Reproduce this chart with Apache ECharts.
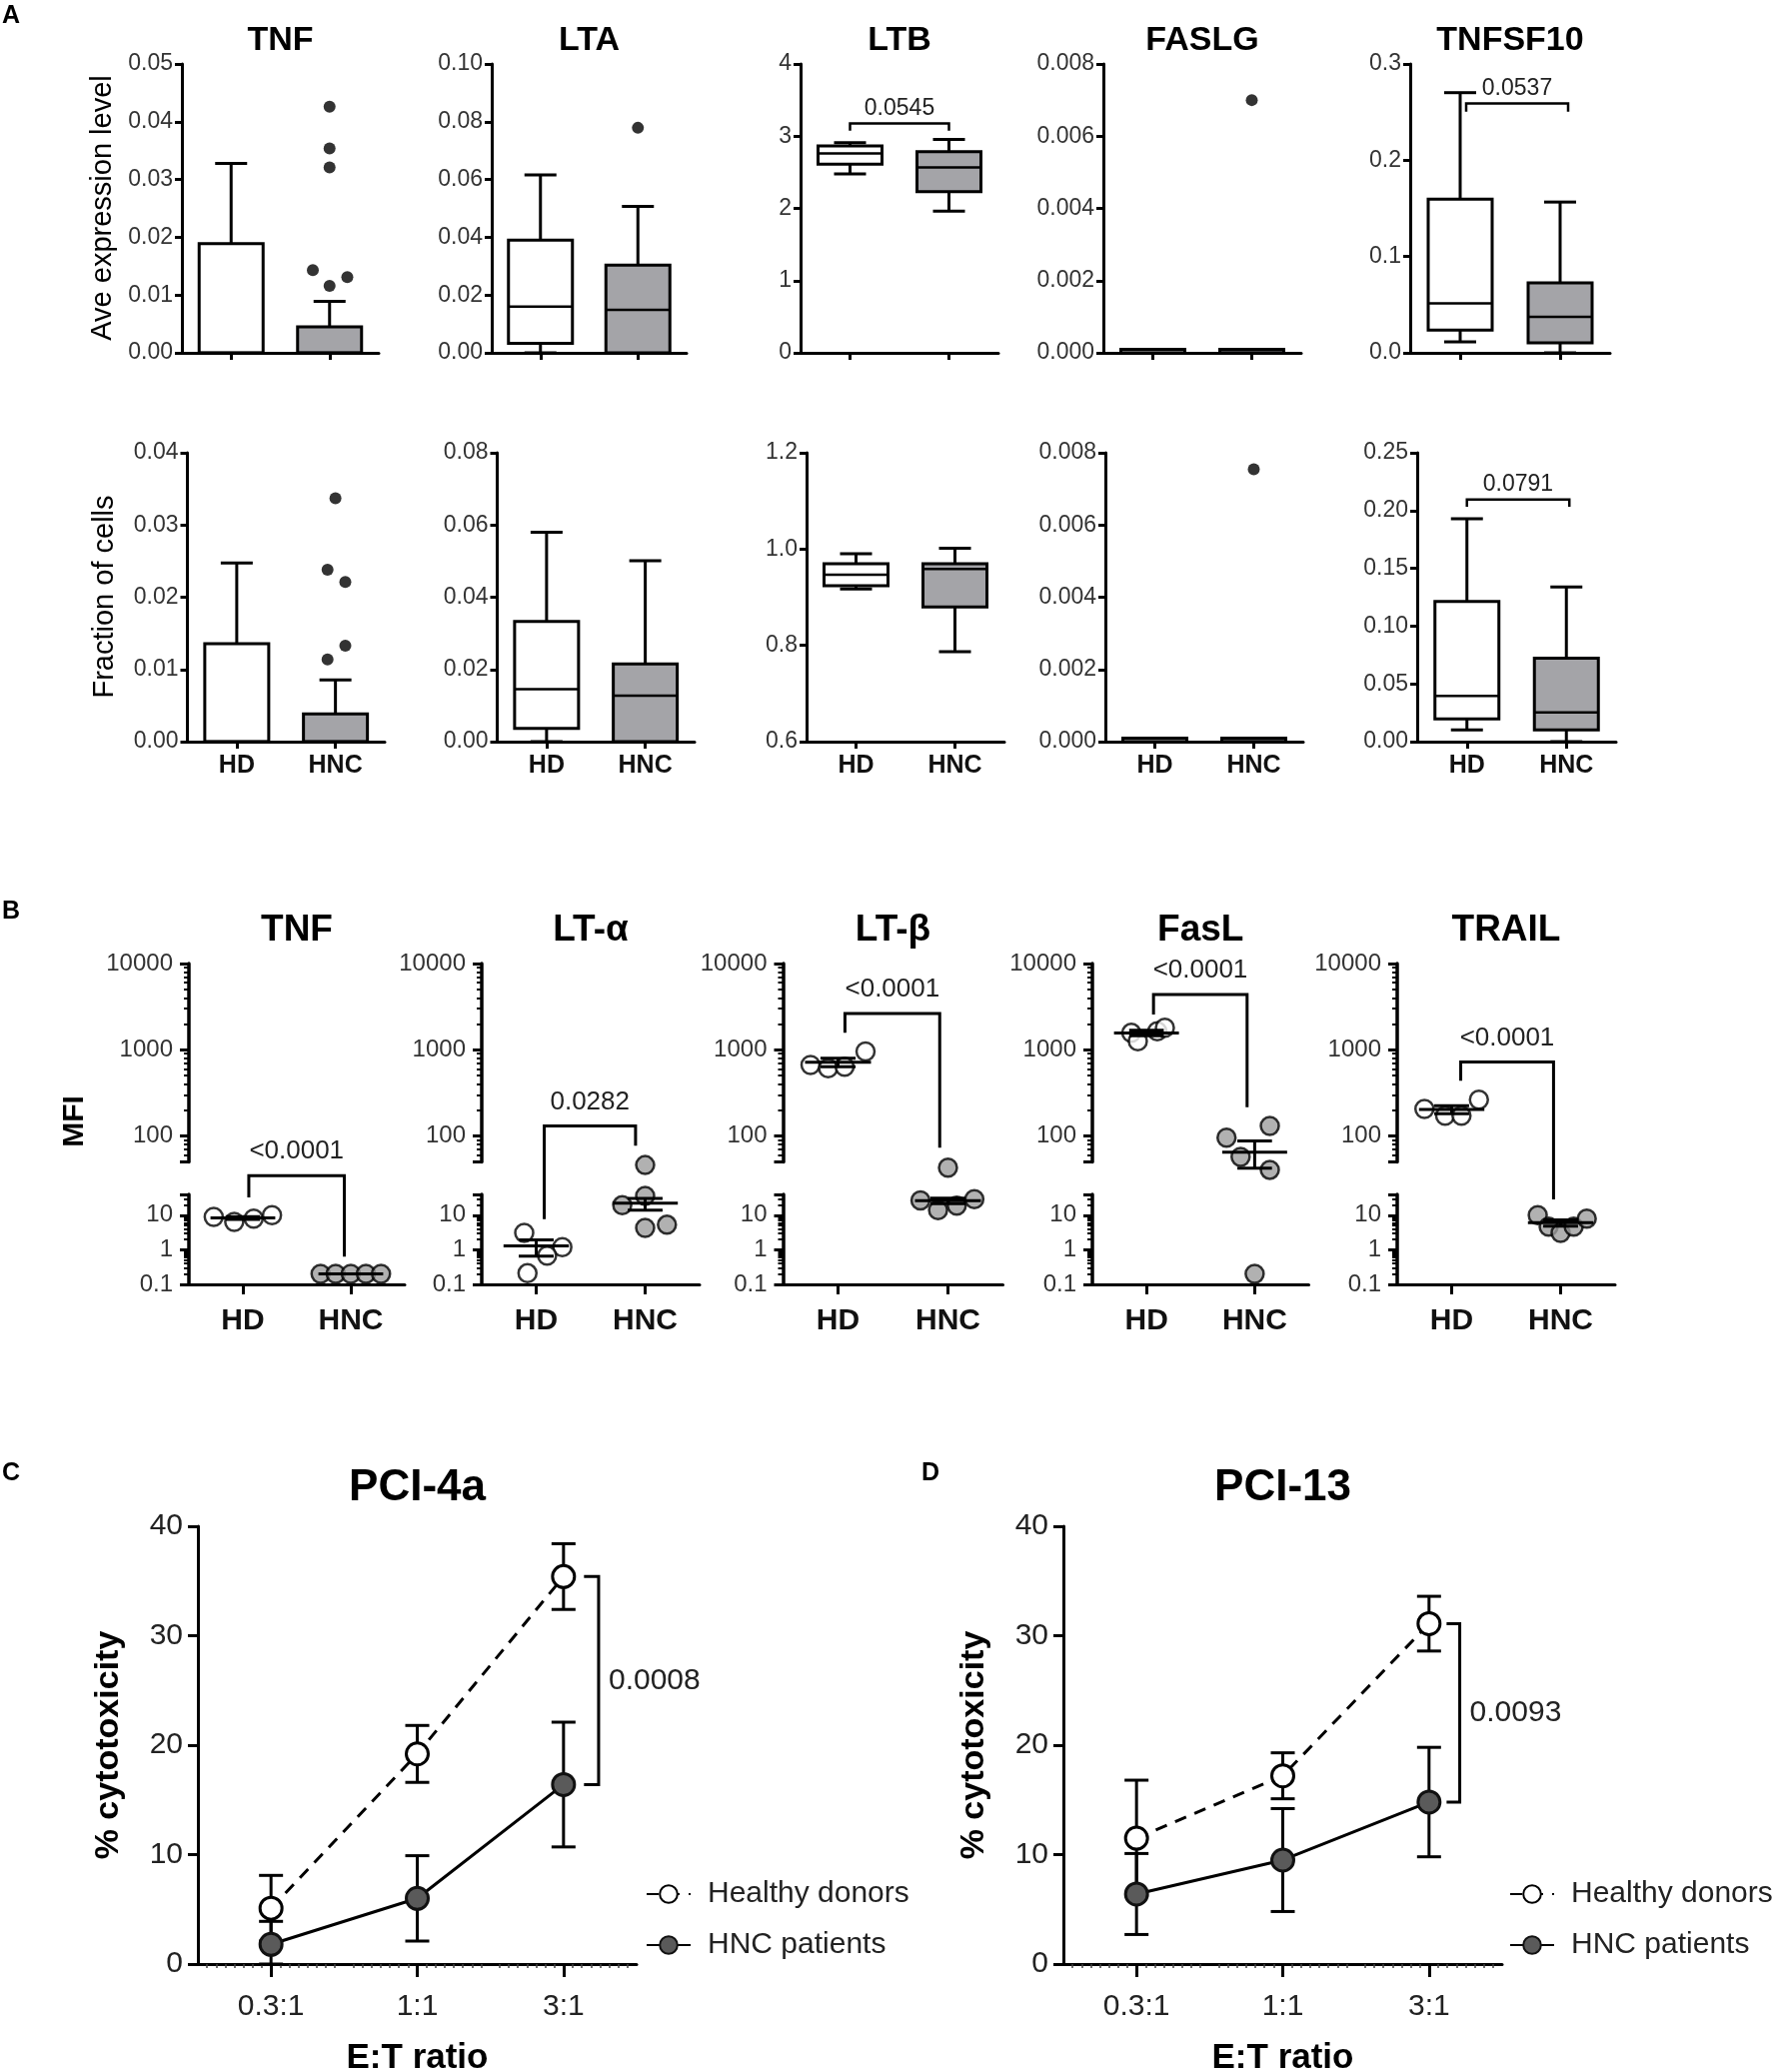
<!DOCTYPE html>
<html>
<head>
<meta charset="utf-8">
<title>TNF superfamily ligands</title>
<script src="https://cdn.jsdelivr.net/npm/echarts@6.0.0/dist/echarts.min.js"></script>
<style>
html,body{margin:0;padding:0;background:#fff;overflow:hidden;}
#chart{width:1778px;height:2073px;}
</style>
</head>
<body>
<div id="chart"></div>
<script>
// ===================== DATA =====================
const groupNames = ['HD', 'HNC'];
const genesA = ['TNF', 'LTA', 'LTB', 'FASLG', 'TNFSF10'];

// Panel A, row 1 – Ave expression level. Box summaries [min, q1, median, q3, max] for HD, HNC
const exprTNF     = [[0, 0, 0, 0.0189, 0.0328], [0, 0, 0, 0.0045, 0.0089]];
const exprLTA     = [[0, 0.0033, 0.0160, 0.0390, 0.0616], [0, 0, 0.0149, 0.0304, 0.0507]];
const exprLTB     = [[2.476, 2.614, 2.760, 2.864, 2.910], [1.963, 2.231, 2.568, 2.785, 2.956]];
const exprFASLG   = [[0, 0, 0, 0.0001, 0.0001], [0, 0, 0, 0.0001, 0.0001]];
const exprTNFSF10 = [[0.0114, 0.0236, 0.0513, 0.1597, 0.2702], [0, 0.0104, 0.0374, 0.0727, 0.1566]];
// outliers (HNC group) and their horizontal jitter in category units
const exprTNFOut = [0.0426, 0.0354, 0.0321, 0.0143, 0.0116, 0.0131];
const exprTNFJit = [0, 0, 0, -0.17, 0, 0.18];
const exprLTAOut = [0.0779];
const exprLTAJit = [0];
const exprFASLGOut = [0.0070];
const exprFASLGJit = [0];
// y axes [min, max, interval] and label decimals
const exprAxes = [[0, 0.05, 0.01], [0, 0.10, 0.02], [0, 4, 1], [0, 0.008, 0.002], [0, 0.3, 0.1]];
const exprDecimals = [2, 2, 0, 3, 1];
// brackets [x1, x2, yTop, yLegEnd] and p values
const exprBrackets = [null, null, [0, 1, 3.178, 3.076], null, [0.06, 1.08, 0.2591, 0.2505]];
const exprPvals = [null, null, '0.0545', null, '0.0537'];

// Panel A, row 2 – Fraction of cells
const fracTNF     = [[0, 0, 0, 0.01355, 0.02474], [0, 0, 0, 0.00384, 0.00855]];
const fracLTA     = [[0, 0.0037, 0.0145, 0.0333, 0.0580], [0, 0, 0.01276, 0.02155, 0.0501]];
const fracLTB     = [[0.917, 0.924, 0.9468, 0.9697, 0.9905], [0.7866, 0.8795, 0.9586, 0.9697, 1.0016]];
const fracFASLG   = [[0, 0, 0, 0.0001, 0.0001], [0, 0, 0, 0.0001, 0.0001]];
const fracTNFSF10 = [[0.0101, 0.0197, 0.0396, 0.1214, 0.1930], [0, 0.0101, 0.0254, 0.0723, 0.1338]];
const fracTNFOut = [0.0337, 0.0238, 0.0221, 0.0133, 0.0114];
const fracTNFJit = [0, -0.08, 0.10, 0.10, -0.08];
const fracFASLGOut = [0.00754];
const fracFASLGJit = [0];
const fracAxes = [[0, 0.04, 0.01], [0, 0.08, 0.02], [0.6, 1.2, 0.2], [0, 0.008, 0.002], [0, 0.25, 0.05]];
const fracDecimals = [2, 2, 1, 3, 2];
const fracBrackets = [null, null, null, null, [0, 1.03, 0.2095, 0.2032]];
const fracPvals = [null, null, null, null, '0.0791'];

// Panel B – MFI, individual donors (log scale, broken axis)
const mfiTitles = ['TNF', 'LT-\u03b1', 'LT-\u03b2', 'FasL', 'TRAIL'];
const mfiHD = [[8.9, 6.4, 8.0, 10.0], [3.1, 1.19, 0.68, 0.21], [667, 609, 637, 955], [1570, 1253, 1643, 1797], [206, 172, 172, 263]];
const mfiHDJit = [[-0.27, -0.08, 0.10, 0.27], [-0.11, 0.24, 0.10, -0.08], [-0.25, -0.09, 0.06, 0.25], [-0.14, -0.08, 0.10, 0.17], [-0.25, -0.06, 0.09, 0.25]];
const mfiHNC = [[0.2, 0.2, 0.2, 0.2, 0.2], [46, 36, 19.4, 4.3, 5.3], [43, 27, 14, 19, 29], [95.6, 57, 131, 40.5, 0.2], [10, 4.7, 3.1, 4.7, 8]];
const mfiHNCJit = [[-0.28, -0.14, 0, 0.14, 0.28], [0, 0, -0.21, 0, 0.20], [0, -0.25, -0.09, 0.08, 0.24], [-0.26, -0.13, 0.14, 0.14, 0], [-0.21, -0.11, 0, 0.12, 0.24]];
const mfiBreak = 40;          // values >= this use the upper segment scale
const mfiUpperMin = 50;       // upper segment axis starts here
const mfiUpperMax = 10000;
const mfiLowerMin = 0.1;
const mfiUpperLabels = [100, 1000, 10000];
const mfiLowerLabels = [0.1, 1, 10];
// brackets [x1, x2, yTop, yLeftLegEnd, yRightLegEnd]
const mfiBrackets = [[0.055, 0.94, 34.7, 32.8, 0.63], [0.074, 0.912, 131, 7.7, 77.3], [0.063, 0.925, 2630, 1571, 73], [0.065, 0.93, 4385, 2570, 215], [0.083, 0.935, 723, 436, 28.8]];
const mfiPvals = ['<0.0001', '0.0282', '<0.0001', '<0.0001', '<0.0001'];

// Panels C, D – % cytotoxicity (mean ± SEM)
const ratios = ['0.3:1', '1:1', '3:1'];
const pci4aHD = [5.1, 19.2, 35.4];
const pci4aHDsem = [3.0, 2.6, 3.0];
const pci4aHNC = [1.8, 6.0, 16.4];
const pci4aHNCsem = [2.1, 3.9, 5.7];
const pci13HD = [11.5, 17.2, 31.1];
const pci13HDsem = [5.3, 2.1, 2.5];
const pci13HNC = [6.4, 9.5, 14.8];
const pci13HNCsem = [3.7, 4.7, 5.0];
const pci4aBracket = [2.14, 2.24];
const pci13Bracket = [2.12, 2.21];
const pci4aP = '0.0008';
const pci13P = '0.0093';
const seriesNames = ['Healthy donors', 'HNC patients'];

// ===================== LAYOUT / STYLE =====================
const FONT = "'Liberation Sans', Arial, Helvetica, sans-serif";
const rowA1Lefts = [182, 492, 801, 1104, 1411], rowA1Widths = [197, 195, 198, 198, 200];
const rowA2Lefts = [187.5, 497.5, 807, 1106, 1418], rowA2Widths = [197.5, 197.5, 198, 198, 199];
const rowBLefts = [189, 482, 783.5, 1093, 1398], rowBWidths = [216, 218, 220, 216.5, 218];
const boxFill = ['#ffffff', '#a4a4a8'];
const dotFillB = ['#ffffff', '#9e9e9e'];

const chart = echarts.init(document.getElementById('chart'), null, {width: 1778, height: 2073});
const grids = [], xAxes = [], yAxes = [], series = [];
function addGrid(left, top, width, height) {
  grids.push({left, top, width, height, containLabel: false, outerBoundsMode: 'none'});
  return grids.length - 1;
}
function seg(x1, y1, x2, y2, w) {
  return {type: 'line', shape: {x1, y1, x2, y2}, style: {stroke: '#000', lineWidth: w || 3}};
}
function groupXAxis(g, showLabels, labelSize, tickLen, margin) {
  xAxes.push({gridIndex: g, type: 'value', min: -0.5, max: 1.5,
    axisLine: {show: true, onZero: false, lineStyle: {color: '#000', width: 3}},
    axisTick: {show: true, customValues: [0, 1], length: tickLen, lineStyle: {color: '#000', width: 3}},
    axisLabel: {show: showLabels, customValues: [0, 1], formatter: v => groupNames[Math.round(v)],
      fontFamily: FONT, fontSize: labelSize, fontWeight: 'bold', color: '#111', margin: margin},
    splitLine: {show: false}});
  return xAxes.length - 1;
}

// ---------- box plot renderer ----------
function renderBox(params, api) {
  const i = api.value(0);
  const v = [1, 2, 3, 4, 5].map(k => api.value(k));
  const p = v.map(val => api.coord([i, val]));
  const cx = p[2][0], hw = 32, cw = 16;
  const ch = [];
  if (v[4] > v[3]) { ch.push(seg(cx, p[3][1], cx, p[4][1])); ch.push(seg(cx - cw, p[4][1], cx + cw, p[4][1])); }
  if (v[0] < v[1]) { ch.push(seg(cx, p[1][1], cx, p[0][1])); ch.push(seg(cx - cw, p[0][1], cx + cw, p[0][1])); }
  ch.push({type: 'rect', shape: {x: cx - hw, y: p[3][1], width: 2 * hw, height: Math.max(p[1][1] - p[3][1], 0)},
    style: {fill: boxFill[i], stroke: '#000', lineWidth: 3}});
  ch.push(seg(cx - hw, p[2][1], cx + hw, p[2][1], 2.5));
  return {type: 'group', children: ch};
}

const aRefs = [[], []];
function buildRowA(row, lefts, widths, top, boxes, axes, decimals, outs, jits, showX) {
  for (let k = 0; k < 5; k++) {
    const g = addGrid(lefts[k], top, widths[k], 289);
    const xi = groupXAxis(g, showX, 25, 7, 12);
    yAxes.push({gridIndex: g, type: 'value', min: axes[k][0], max: axes[k][1], interval: axes[k][2],
      axisLine: {show: true, onZero: false, lineStyle: {color: '#000', width: 3}},
      axisTick: {show: true, length: 7, lineStyle: {color: '#000', width: 3}},
      axisLabel: {formatter: v => v.toFixed(decimals[k]), fontFamily: FONT, fontSize: 23, color: '#333', margin: 9},
      splitLine: {show: false}});
    const yi = yAxes.length - 1;
    series.push({type: 'custom', xAxisIndex: xi, yAxisIndex: yi, renderItem: renderBox, z: 3,
      data: boxes[k].map((b, i) => [i].concat(b))});
    if (outs[k]) {
      series.push({type: 'scatter', xAxisIndex: xi, yAxisIndex: yi, z: 4, symbol: 'circle', symbolSize: 12,
        itemStyle: {color: '#000'}, data: outs[k].map((v, j) => [1 + jits[k][j], v])});
    }
    aRefs[row].push({xi, yi, left: lefts[k], width: widths[k]});
  }
}
buildRowA(0, rowA1Lefts, rowA1Widths, 64,
  [exprTNF, exprLTA, exprLTB, exprFASLG, exprTNFSF10], exprAxes, exprDecimals,
  [exprTNFOut, exprLTAOut, null, exprFASLGOut, null], [exprTNFJit, exprLTAJit, null, exprFASLGJit, null], false);
buildRowA(1, rowA2Lefts, rowA2Widths, 453,
  [fracTNF, fracLTA, fracLTB, fracFASLG, fracTNFSF10], fracAxes, fracDecimals,
  [fracTNFOut, null, null, fracFASLGOut, null], [fracTNFJit, null, null, fracFASLGJit, null], true);

// ---------- Panel B ----------
function minorLogTicks(lo, hi) {
  const out = [];
  for (let e = -2; e <= 5; e++) {
    for (let m = 2; m <= 9; m++) {
      const v = m * Math.pow(10, e);
      if (v > lo * 1.0001 && v < hi * 0.9999) out.push(v);
    }
  }
  return out;
}
function meanSem(a) {
  const n = a.length, m = a.reduce((s, v) => s + v, 0) / n;
  const sd = Math.sqrt(a.reduce((s, v) => s + (v - m) * (v - m), 0) / (n - 1));
  return [m, sd / Math.sqrt(n)];
}
function makeMeanRenderer(inSeg) {
  return function (params, api) {
    const x = api.value(0), m = api.value(1), s = api.value(2);
    const ch = [];
    if (inSeg(m)) {
      const a = api.coord([x - 0.3, m]), b = api.coord([x + 0.3, m]);
      ch.push(seg(a[0], a[1], b[0], b[1], 3));
    }
    if (s > 0) {
      const hiV = m + s, loV = m - s;
      const c0 = api.coord([x, m])[0], cw = api.coord([x + 0.16, m])[0] - c0;
      const hi = api.coord([x, hiV]), lo = api.coord([x, loV]);
      if (inSeg(hiV) && inSeg(loV)) ch.push(seg(hi[0], hi[1], lo[0], lo[1], 3));
      if (inSeg(hiV)) ch.push(seg(hi[0] - cw, hi[1], hi[0] + cw, hi[1], 3));
      if (inSeg(loV)) ch.push(seg(lo[0] - cw, lo[1], lo[0] + cw, lo[1], 3));
    }
    return {type: 'group', children: ch};
  };
}
function logYAxes(g, min, max, majorTicks, labels) {
  // axis line (linear helper axis so the line spans exactly the segment)
  yAxes.push({gridIndex: g, type: 'value', min: 0, max: 1, position: 'left',
    axisLine: {show: true, onZero: false, lineStyle: {color: '#000', width: 3.5}},
    axisTick: {show: false}, axisLabel: {show: false}, splitLine: {show: false}});
  // major ticks + labels
  yAxes.push({gridIndex: g, type: 'log', logBase: 10, min: min, max: max, position: 'left',
    axisLine: {show: false, onZero: false},
    axisTick: {show: true, customValues: majorTicks, length: 9, lineStyle: {color: '#000', width: 3}},
    axisLabel: {show: true, customValues: labels, formatter: v => String(v), fontFamily: FONT, fontSize: 24, color: '#333', margin: 16},
    splitLine: {show: false}});
  const major = yAxes.length - 1;
  // minor ticks
  yAxes.push({gridIndex: g, type: 'log', logBase: 10, min: min, max: max, position: 'left',
    axisLine: {show: false, onZero: false},
    axisTick: {show: true, customValues: minorLogTicks(min, max), length: 5, lineStyle: {color: '#000', width: 2}},
    axisLabel: {show: false}, splitLine: {show: false}});
  return major;
}
const inUpper = v => v >= mfiBreak;
const inLower = v => v < mfiBreak;
const bRefs = [];
for (let k = 0; k < 5; k++) {
  const gU = addGrid(rowBLefts[k], 964, rowBWidths[k], 198.5);
  const gL = addGrid(rowBLefts[k], 1195, rowBWidths[k], 90);
  xAxes.push({gridIndex: gU, type: 'value', min: -0.5, max: 1.5, show: false, axisLine: {onZero: false}});
  const xU = xAxes.length - 1;
  const xL = groupXAxis(gL, true, 30, 10, 22);
  const yU = logYAxes(gU, mfiUpperMin, mfiUpperMax, [mfiUpperMin].concat(mfiUpperLabels), mfiUpperLabels);
  const yL = logYAxes(gL, mfiLowerMin, mfiBreak, mfiLowerLabels.concat([mfiBreak]), mfiLowerLabels);
  const stats = [meanSem(mfiHD[k]), meanSem(mfiHNC[k])];
  [[xU, yU, inUpper], [xL, yL, inLower]].forEach(([xi, yi, inSeg]) => {
    series.push({type: 'scatter', xAxisIndex: xi, yAxisIndex: yi, clip: false, z: 3, symbol: 'circle', symbolSize: 18,
      itemStyle: {color: dotFillB[0], borderColor: '#000', borderWidth: 2.5},
      data: mfiHD[k].map((v, j) => [0 + mfiHDJit[k][j], v]).filter(d => inSeg(d[1]))});
    series.push({type: 'scatter', xAxisIndex: xi, yAxisIndex: yi, clip: false, z: 3, symbol: 'circle', symbolSize: 18,
      itemStyle: {color: dotFillB[1], borderColor: '#000', borderWidth: 2.5},
      data: mfiHNC[k].map((v, j) => [1 + mfiHNCJit[k][j], v]).filter(d => inSeg(d[1]))});
    series.push({type: 'custom', xAxisIndex: xi, yAxisIndex: yi, clip: false, z: 5, renderItem: makeMeanRenderer(inSeg),
      data: stats.map((s, i) => [i, s[0], s[1]])});
  });
  bRefs.push({xU, yU, xL, yL, left: rowBLefts[k], width: rowBWidths[k]});
}

// ---------- Panels C and D ----------
function renderErr(params, api) {
  const x = api.value(0), lo = api.value(1), hi = api.value(2);
  const a = api.coord([x, lo]), b = api.coord([x, hi]);
  const cw = 12;
  return {type: 'group', children: [seg(a[0], a[1], b[0], b[1], 3), seg(a[0] - cw, a[1], a[0] + cw, a[1], 3), seg(b[0] - cw, b[1], b[0] + cw, b[1], 3)]};
}
const cRefs = [];
function buildCyto(left, hd, hdSem, hnc, hncSem) {
  const g = addGrid(left, 1527, 439, 438);
  xAxes.push({gridIndex: g, type: 'value', min: -0.5, max: 2.5, interval: 0.5,
    axisLine: {show: true, onZero: false, lineStyle: {color: '#000', width: 3}},
    axisTick: {show: true, customValues: [0, 1, 2], length: 13, lineStyle: {color: '#000', width: 3}},
    minorTick: {show: true, splitNumber: 8, length: 4, lineStyle: {color: '#444', width: 1.5}},
    axisLabel: {show: true, customValues: [0, 1, 2], formatter: v => ratios[Math.round(v)], fontFamily: FONT, fontSize: 30, color: '#222', margin: 28},
    splitLine: {show: false}});
  const xi = xAxes.length - 1;
  yAxes.push({gridIndex: g, type: 'value', min: 0, max: 40, interval: 10,
    axisLine: {show: true, onZero: false, lineStyle: {color: '#000', width: 3}},
    axisTick: {show: true, length: 10, lineStyle: {color: '#000', width: 3}},
    axisLabel: {fontFamily: FONT, fontSize: 30, color: '#222', margin: 15},
    splitLine: {show: false}});
  const yi = yAxes.length - 1;
  const errs = [];
  hd.forEach((m, i) => errs.push([i, m - hdSem[i], m + hdSem[i]]));
  hnc.forEach((m, i) => errs.push([i, Math.max(0, m - hncSem[i]), m + hncSem[i]]));
  series.push({type: 'custom', xAxisIndex: xi, yAxisIndex: yi, z: 2, renderItem: renderErr, data: errs});
  series.push({type: 'line', name: seriesNames[0], xAxisIndex: xi, yAxisIndex: yi, z: 5,
    data: hd.map((v, i) => [i, v]), symbol: 'circle', symbolSize: 22, showSymbol: true,
    lineStyle: {color: '#000', width: 3, type: [12, 9]},
    itemStyle: {color: '#ffffff', borderColor: '#000', borderWidth: 3}});
  series.push({type: 'line', name: seriesNames[1], xAxisIndex: xi, yAxisIndex: yi, z: 5,
    data: hnc.map((v, i) => [i, v]), symbol: 'circle', symbolSize: 22, showSymbol: true,
    lineStyle: {color: '#000', width: 3, type: 'solid'},
    itemStyle: {color: '#5a5a5a', borderColor: '#111', borderWidth: 3}});
  cRefs.push({xi, yi, left});
}
buildCyto(198, pci4aHD, pci4aHDsem, pci4aHNC, pci4aHNCsem);
buildCyto(1064, pci13HD, pci13HDsem, pci13HNC, pci13HNCsem);

function legendAt(left) {
  return {left: left, top: 1880, orient: 'vertical', itemGap: 21, itemWidth: 44, itemHeight: 22, padding: 0,
    selectedMode: false, data: seriesNames,
    textStyle: {fontFamily: FONT, fontSize: 30, color: '#222', padding: [0, 0, 0, 12]}};
}

chart.setOption({
  animation: false,
  backgroundColor: '#ffffff',
  grid: grids, xAxis: xAxes, yAxis: yAxes, series: series,
  legend: [legendAt(646), legendAt(1510)]
});

// ===================== ANNOTATIONS =====================
const gfx = [];
function txt(text, x, y, size, bold, align, rotation, fill) {
  const el = {type: 'text', x: x, y: y, z: 100, silent: true,
    style: {text: text, font: (bold ? 'bold ' : '') + size + 'px ' + FONT, fill: fill || '#000',
      align: align || 'center', verticalAlign: 'middle', textAlign: align || 'center', textVerticalAlign: 'middle'}};
  if (rotation) el.rotation = rotation;
  return el;
}
function poly(points, w) {
  return {type: 'polyline', z: 90, silent: true, shape: {points: points}, style: {stroke: '#000', lineWidth: w || 3, fill: 'none'}};
}
const px = (xi, yi, x, y) => chart.convertToPixel({xAxisIndex: xi, yAxisIndex: yi}, [x, y]);

// panel letters and titles
gfx.push(txt('A', 2, 16, 25, true, 'left'));
gfx.push(txt('B', 2, 912, 25, true, 'left'));
gfx.push(txt('C', 2, 1474, 25, true, 'left'));
gfx.push(txt('D', 922, 1474, 25, true, 'left'));
aRefs[0].forEach((r, k) => gfx.push(txt(genesA[k], r.left + r.width / 2, 41, 34, true)));
bRefs.forEach((r, k) => gfx.push(txt(mfiTitles[k], r.left + r.width / 2, 931, 37, true)));
gfx.push(txt('PCI-4a', 198 + 219.5, 1489, 44, true));
gfx.push(txt('PCI-13', 1064 + 219.5, 1489, 44, true));
// axis titles
gfx.push(txt('Ave expression level', 103, 208, 29, false, 'center', Math.PI / 2));
gfx.push(txt('Fraction of cells', 105, 597, 29, false, 'center', Math.PI / 2));
gfx.push(txt('MFI', 75, 1122, 30, true, 'center', Math.PI / 2));
gfx.push(txt('% cytotoxicity', 109, 1746, 34, true, 'center', Math.PI / 2));
gfx.push(txt('% cytotoxicity', 975, 1746, 34, true, 'center', Math.PI / 2));
gfx.push(txt('E:T ratio', 198 + 219.5, 2059, 35, true));
gfx.push(txt('E:T ratio', 1064 + 219.5, 2059, 35, true));

// panel A brackets
[[exprBrackets, exprPvals, 0], [fracBrackets, fracPvals, 1]].forEach(([brs, pv, row]) => {
  brs.forEach((b, k) => {
    if (!b) return;
    const r = aRefs[row][k];
    const p1 = px(r.xi, r.yi, b[0], b[3]), p2 = px(r.xi, r.yi, b[0], b[2]);
    const p3 = px(r.xi, r.yi, b[1], b[2]), p4 = px(r.xi, r.yi, b[1], b[3]);
    gfx.push(poly([p1, p2, p3, p4], 2.5));
    gfx.push(txt(pv[k], (p2[0] + p3[0]) / 2, p2[1] - 15, 23, false, 'center', 0, '#222'));
  });
});
// panel B brackets (legs may end in either segment of the broken axis)
mfiBrackets.forEach((b, k) => {
  const r = bRefs[k];
  const leg = (x, v) => v >= mfiBreak ? px(r.xU, r.yU, x, v) : px(r.xL, r.yL, x, v);
  const t1 = px(r.xU, r.yU, b[0], b[2]), t2 = px(r.xU, r.yU, b[1], b[2]);
  const l1 = leg(b[0], b[3]), l2 = leg(b[1], b[4]);
  gfx.push(poly([l1, t1, t2, l2], 3));
  gfx.push(txt(mfiPvals[k], (t1[0] + t2[0]) / 2, t1[1] - 24, 26, false, 'center', 0, '#222'));
});
// panels C, D brackets
[[pci4aBracket, pci4aHD, pci4aHNC, pci4aP, 0], [pci13Bracket, pci13HD, pci13HNC, pci13P, 1]].forEach(([b, hd, hnc, p, i]) => {
  const r = cRefs[i];
  const a1 = px(r.xi, r.yi, b[0], hd[2]), a2 = px(r.xi, r.yi, b[1], hd[2]);
  const b2 = px(r.xi, r.yi, b[1], hnc[2]), b1 = px(r.xi, r.yi, b[0], hnc[2]);
  gfx.push(poly([a1, a2, b2, b1], 3));
  gfx.push(txt(p, a2[0] + 10, (a2[1] + b2[1]) / 2, 30, false, 'left', 0, '#222'));
});

chart.setOption({graphic: gfx});
</script>
</body>
</html>
